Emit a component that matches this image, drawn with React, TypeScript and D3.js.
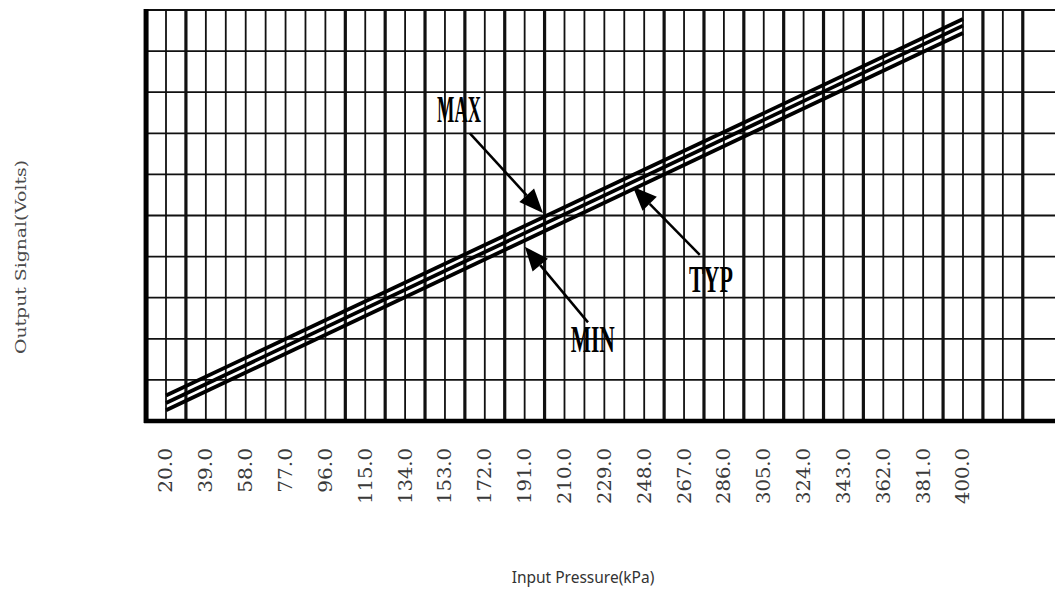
import { useEffect, useRef } from 'react'
import * as d3 from 'd3'

// Transfer function
const pressureKpa = [20, 400]
const maxVolts = [0.31, 4.89]
const typVolts = [0.22, 4.81]
const minVolts = [0.13, 4.72]

const tickValues = [20, 39, 58, 77, 96, 115, 134, 153, 172, 191, 210, 229, 248, 267, 286, 305, 324, 343, 362, 381, 400]
const tickLabels = ['20.0', '39.0', '58.0', '77.0', '96.0', '115.0', '134.0', '153.0', '172.0', '191.0', '210.0', '229.0', '248.0', '267.0', '286.0', '305.0', '324.0', '343.0', '362.0', '381.0', '400.0']

// callouts: [kPa, volts] for arrow tip, arrow tail and label baseline
const callouts = [
  { label: 'MAX', tip: [199.7, 2.53], tail: [164.9, 3.5], text: [159.7, 3.64], bold: true },
  { label: 'MIN', tip: [191.1, 2.12], tail: [221.2, 1.2], text: [223.5, 0.84], bold: true },
  { label: 'TYP', tip: [242.6, 2.85], tail: [274.5, 2.02], text: [279.8, 1.57], bold: true },
]

// vertical grid index (from the left border) that were drawn heavy
const heavyCols = [2, 10, 12, 14, 16, 18, 20, 26, 28, 30, 32, 34, 36, 40, 42, 44]

export default function App() {
  const svgRef = useRef<SVGSVGElement>(null)
  const width = 1055
  const height = 589

  useEffect(() => {
    if (!svgRef.current) return
    const svg = d3.select(svgRef.current)
    svg.selectAll('*').remove()

    const x = d3.scaleLinear().domain([20, 400]).range([166, 963])
    const y = d3.scaleLinear().domain([0, 5]).range([421, 10])
    const step = (tickValues[1] - tickValues[0]) / 2

    svg.append('rect').attr('width', width).attr('height', height).attr('fill', '#fff')

    const grid = svg.append('g')

    // horizontal grid
    grid.selectAll('.hline')
      .data(d3.range(1, 11).map(i => i * 0.5))
      .enter().append('line')
      .attr('x1', x(tickValues[0] - step))
      .attr('x2', width)
      .attr('y1', d => y(d))
      .attr('y2', d => y(d))
      .attr('stroke', '#111')
      .attr('stroke-width', 1.8)

    // vertical grid
    const cols = d3.range(1, 45)
    grid.selectAll('.vline')
      .data(cols)
      .enter().append('line')
      .attr('x1', k => x(tickValues[0] - step + k * step))
      .attr('x2', k => x(tickValues[0] - step + k * step))
      .attr('y1', y(5) - 1)
      .attr('y2', y(0))
      .attr('stroke', '#111')
      .attr('stroke-width', k => heavyCols.includes(k) ? 3.2 : 1.8)

    // axes borders
    grid.append('line')
      .attr('x1', x(tickValues[0] - step)).attr('x2', x(tickValues[0] - step))
      .attr('y1', y(5) - 1).attr('y2', y(0) + 2)
      .attr('stroke', '#000').attr('stroke-width', 5)
    grid.append('line')
      .attr('x1', x(tickValues[0] - step) - 2).attr('x2', width)
      .attr('y1', y(0)).attr('y2', y(0))
      .attr('stroke', '#000').attr('stroke-width', 4.5)

    // tick labels
    svg.append('g')
      .selectAll('text')
      .data(tickValues)
      .enter().append('text')
      .attr('transform', d => `translate(${x(d)},448) rotate(-90)`)
      .attr('dy', '0.36em')
      .attr('text-anchor', 'end')
      .attr('font-family', '"DejaVu Serif Condensed", "DejaVu Serif", serif')
      .attr('font-size', 18)
      .attr('fill', '#3a3a3a')
      .attr('textLength', (d, i) => tickLabels[i].length * 11.2)
      .attr('lengthAdjust', 'spacingAndGlyphs')
      .text((d, i) => tickLabels[i])

    // the three curves
    const line = d3.line<number>()
      .x((d, i) => x(pressureKpa[i]))
      .y(d => y(d))
    ;[maxVolts, typVolts, minVolts].forEach(series => {
      svg.append('path')
        .attr('d', line(series))
        .attr('fill', 'none')
        .attr('stroke', '#000')
        .attr('stroke-width', 3.8)
    })

    // callouts
    callouts.forEach(c => {
      const tx = x(c.tip[0]), ty = y(c.tip[1])
      const sx = x(c.tail[0]), sy = y(c.tail[1])
      const len = Math.hypot(tx - sx, ty - sy)
      const ux = (tx - sx) / len, uy = (ty - sy) / len
      const bx = tx - ux * 24, by = ty - uy * 24
      const nx = -uy, ny = ux
      svg.append('line')
        .attr('x1', sx).attr('y1', sy).attr('x2', bx).attr('y2', by)
        .attr('stroke', '#000').attr('stroke-width', 2.5)
      svg.append('polygon')
        .attr('points', `${tx},${ty} ${bx + nx * 10},${by + ny * 10} ${bx - nx * 10},${by - ny * 10}`)
        .attr('fill', '#000')
      svg.append('text')
        .attr('x', x(c.text[0]))
        .attr('y', y(c.text[1]))
        .attr('text-anchor', 'middle')
        .attr('font-family', '"Liberation Serif", "Times New Roman", serif')
        .attr('font-size', 38)
        .attr('font-weight', c.bold ? 'bold' : 'normal')
        .attr('textLength', 44)
        .attr('lengthAdjust', 'spacingAndGlyphs')
        .attr('fill', '#000')
        .text(c.label)
    })

    // axis titles
    svg.append('text')
      .attr('transform', 'translate(21,257) rotate(-90)')
      .attr('dy', '0.35em')
      .attr('text-anchor', 'middle')
      .attr('font-family', '"DejaVu Serif Condensed", "DejaVu Serif", serif')
      .attr('font-size', 15)
      .attr('fill', '#4a4a4a')
      .attr('textLength', 194)
      .attr('lengthAdjust', 'spacingAndGlyphs')
      .text('Output Signal(Volts)')

    svg.append('text')
      .attr('x', 583)
      .attr('y', 583)
      .attr('text-anchor', 'middle')
      .attr('font-family', '"Noto Sans", "Open Sans", sans-serif')
      .attr('font-size', 15.5)
      .attr('fill', '#333')
      .text('Input Pressure(kPa)')
  }, [])

  return (
    <svg
      ref={svgRef}
      width={width}
      height={height}
      style={{ position: 'absolute', top: 0, left: 0, display: 'block' }}
    />
  )
}
